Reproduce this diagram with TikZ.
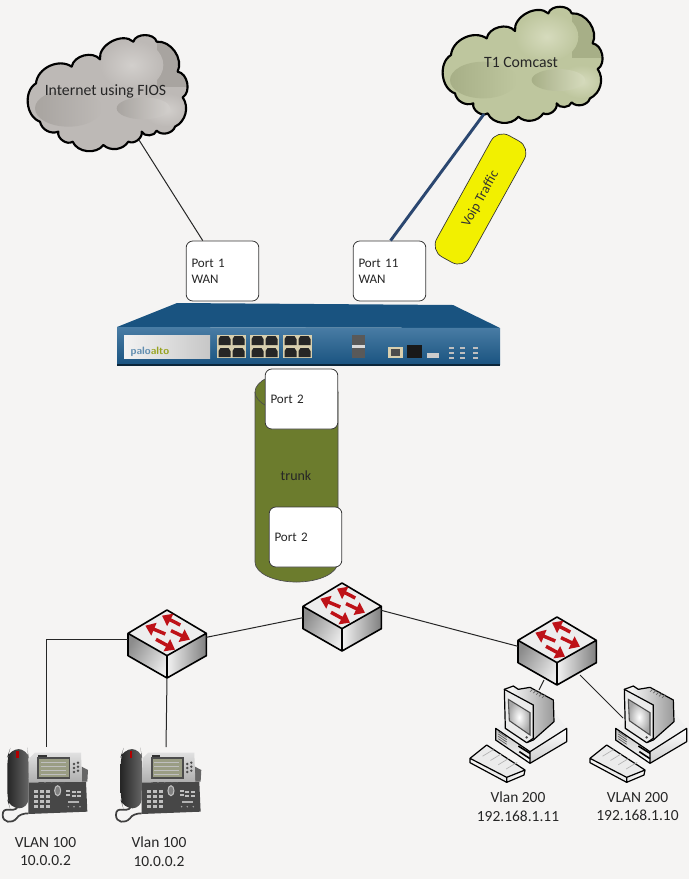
\documentclass[tikz,border=0pt]{standalone}
\usepackage{fontspec}
\setmainfont{Carlito}
\usetikzlibrary{arrows.meta,calc,shapes.geometric}
\definecolor{bgc}{HTML}{F5F4F3}
\definecolor{edgeg}{HTML}{3A3A3A}
\definecolor{fwblue}{HTML}{1C5C8E}
\definecolor{swred}{HTML}{BE1218}
\definecolor{olive}{HTML}{6C7C2D}
\definecolor{linkblue}{HTML}{2B4770}
\definecolor{greyB}{HTML}{BDB9B6}\definecolor{greyL}{HTML}{D2CFCC}\definecolor{greyD}{HTML}{A8A4A0}
\definecolor{oliveB}{HTML}{BEC69E}\definecolor{oliveL}{HTML}{D6DBBD}\definecolor{oliveD}{HTML}{A7AF87}
\definecolor{rjback}{HTML}{D8CFAE}
\definecolor{voipy}{HTML}{F2F000}
\definecolor{phonescreen}{HTML}{9A9D84}
\tikzset{
  portbox/.style={draw=edgeg,fill=white,rounded corners=5pt,line width=0.6pt,minimum width=54.5pt,minimum height=45pt,
     text width=46.5pt,inner sep=0pt,align=left,font=\fontsize{9.8}{12}\selectfont,text=black!85},
  lbl/.style={align=center,font=\fontsize{11.6}{14.2}\selectfont,text=black!85,inner sep=0pt},
  cloudlbl/.style={font=\fontsize{11.8}{14}\selectfont,text=black!85,inner sep=0pt},
  wire/.style={draw=black!85,line width=0.75pt},
  zoomed/.style={x=0.25pt,y=-0.25pt},
  swarrow/.style={draw=swred,line width=2.6pt,-{Triangle[length=7pt,width=10pt]}},
  rj/.style={fill=black!85,draw=none},
  pckey/.style={draw=black,line width=0.9pt,line join=round},
  switch/.pic={
    \begin{scope}[zoomed]
      \fill[white!93!black] (0,0)--(118,70)--(0,137)--(-117,70)--cycle;
      \shade[left color=black!45,right color=black!8,shading angle=60] (-117,70)--(0,137)--(0,204)--(-117,137)--cycle;
      \shade[left color=black!5,right color=black!50] (0,137)--(118,70)--(118,137)--(0,204)--cycle;
      \draw[black,line width=1.2pt,line join=round] (0,0)--(118,70)--(118,137)--(0,204)--(-117,137)--(-117,70)--cycle
        (-117,70)--(0,137)--(118,70) (0,137)--(0,204);
      \draw[swarrow] (40,45)--(-15,17);
      \draw[swarrow] (-5,72)--(-65,47);
      \draw[swarrow] (12,62)--(69,89);
      \draw[swarrow] (-33,88)--(24,119);
      \coordinate (-left) at (-117,104);
      \coordinate (-right) at (118,82);
      \coordinate (-west) at (-117,88);
      \coordinate (-bottom) at (0,204);
    \end{scope}
  },
  phone/.pic={
    \begin{scope}[zoomed]
      \draw[black!75,line width=1.3pt] (52,622) .. controls (40,640) and (8,615) .. (8,645) .. controls (8,668) and (35,672) .. (50,655) .. controls (55,645) and (70,640) .. (85,640);
      \fill[black!72] (85,545) -- (258,545) -- (262,635) -- (85,642) -- cycle;
      \fill[black!60] (245,500) -- (264,510) -- (262,545) -- (245,545) -- cycle;
      \shade[top color=black!12,bottom color=black!32] (88,475) -- (105,458) -- (243,458) -- (246,545) -- (85,548) -- cycle;
      \fill[black!70] (112,470) rectangle (211,536);
      \fill[phonescreen] (118,476) rectangle (206,531);
      \foreach \yy in {488,500,512,524} \draw[white!75!black,line width=0.7pt] (122,\yy)--(198,\yy);
      \fill[black!80] (115,465) rectangle (140,471);
      \shade[left color=black!85,right color=black!60] (30,447) [rounded corners=7pt] -- (82,447) -- (86,470) -- (85,625) -- (30,625) -- (22,600) -- (22,470) -- cycle;
      \fill[red!70!black] (49,452) rectangle (56,474);
      \foreach \xx/\yy in {222/492,234/488,222/504,234/500,222/516,234/512}
        \fill[black!70] (\xx,\yy) circle (4);
      \foreach \xx in {125,145,165,185} \fill[black!70] (\xx-7,545) rectangle (\xx+7,551);
      \foreach \xx in {108,126,144} \foreach \yy in {575,590,605,620}
        \fill[black!25] (\xx-6,\yy-5) rectangle (\xx+6,\yy+5);
      \draw[black!25,fill=black!50,line width=0.8pt] (173,572) ellipse (9 and 15);
      \foreach \xx/\yy in {205/572,205/584,222/575,238/575,222/587,238/587}
        \fill[black!25] (\xx-6,\yy-3) rectangle (\xx+6,\yy+3);
      \fill[black!30] (205,603) rectangle (238,608);
      \foreach \xx in {205,222,240} \fill[black!35] (\xx,620) circle (2.5);
    \end{scope}
  },
  computer/.pic={
    \begin{scope}[zoomed]
      \fill[black!8] (60,475)--(110,435)--(225,510)--(170,545)--cycle;
      \draw[pckey] (60,475)--(110,435)--(225,510)--(222,525)--(170,547)--(60,488)--cycle (60,475)--(170,532)--(225,510) (170,532)--(170,547);
      \foreach \tt in {0.15,0.35,0.55,0.75}
        \draw[black!30,line width=0.5pt] ($(80,459)!\tt!(198,523)$) -- +(33,-20);
      \shade[top color=black!25,bottom color=white] (137,385)--(240,455)--(240,490)--(137,420)--cycle;
      \shade[top color=white,bottom color=black!20] (240,455)--(350,385)--(350,425)--(240,490)--cycle;
      \fill[black!6] (137,385)--(165,366)--(300,320)--(350,385)--(240,455)--cycle;
      \draw[pckey] (137,385)--(240,455)--(350,385)--(350,425)--(240,490)--(137,420)--cycle (240,455)--(240,490);
      \foreach \yy in {0,7,14,21} \draw[black!65,line width=0.5pt] (145,395+\yy)--(170,412+\yy);
      \draw[black,line width=1.2pt] (205,438)--(240,460) (208,455)--(240,476);
      \shade[left color=black!6,right color=black!40] (190,262)--(240,265)--(310,300)--(312,365)--(250,420)--(200,390)--cycle;
      \draw[pckey] (163,268)--(190,258)--(205,268)--(240,262)--(310,300)--(312,365)--(250,420)--(230,428);
      \foreach \tt in {0,0.2,0.4,0.6,0.8}
        \draw[black!60,line width=0.5pt] ($(240,275)!\tt!(285,298)$)--+(10,-9);
      \fill[black!8] (163,268)--(248,315)--(250,415)--(230,428)--(166,385)--cycle;
      \draw[pckey] (163,268)--(250,315)--(250,415)--(230,428)--(166,385)--cycle;
      \shade[inner color=white,outer color=black!35] (175,298)--(240,338)--(240,405)--(178,362)--cycle;
      \draw[black!70,line width=0.8pt] (175,298)--(240,338)--(240,405)--(178,362)--cycle;
      \fill[black!70] (230,412) circle (4);
    \end{scope}
  },
}
\newcommand{\cloudpath}{(108,250) to[bend left=60] (215,200) to[bend left=65] (300,178) to[bend left=70] (400,125)
  to[bend left=75] (470,125) to[bend left=60] (533,215) to[bend left=70] (548,292) to[bend left=50] (525,380)
  to[bend left=60] (470,392) to[bend left=70] (425,395) to[bend left=65] (385,425) to[bend left=50] (310,435) to[bend left=60] (218,425)
  to[bend left=70] (175,395) to[bend left=50] (120,365) to[bend left=65] (108,250) -- cycle}
\newcommand{\cloudshape}[4]{% #1 shift, #2 base, #3 light, #4 dark
  \begin{scope}[shift={#1},zoomed]
    \begin{scope}
      \clip \cloudpath;
      \fill[#2] (50,60) rectangle (600,480);
      \fill[#4] (470,120) rectangle (560,260);
      \shade[inner color=#3,outer color=#2] (395,195) ellipse (95 and 75);
      \shade[inner color=#3,outer color=#2] (500,330) ellipse (70 and 50);
      \shade[left color=#4,right color=#2] (205,325) ellipse (100 and 55);
      \shade[left color=#4,right color=#3] (430,325) ellipse (80 and 33);
    \end{scope}
    \draw[black,line width=1.6pt,line join=round] \cloudpath;
  \end{scope}}
\begin{document}
\begin{tikzpicture}[x=0.75pt,y=-0.75pt]
\useasboundingbox (0,0) rectangle (689,879);
\fill[bgc] (0,0) rectangle (689,879);

\cloudshape{(0,0)}{greyB}{greyL}{greyD}
\cloudshape{(415,-28.3)}{oliveB}{oliveL}{oliveD}
\node[cloudlbl] (cloudA) at (105.5,91) {Internet using FIOS};
\node[cloudlbl] (cloudB) at (521,62) {T1 Comcast};
\coordinate (cloudAfoot) at (139,140);
\coordinate (cloudBfoot) at (484,114);

\path[fill=olive,draw=black!70,line width=0.5pt] (255,392) arc[start angle=180,end angle=360,x radius=41.5,y radius=20] -- (338,562) arc[start angle=0,end angle=180,x radius=41.5,y radius=20] -- cycle;
\draw[black!70,line width=0.5pt] (255,392) arc[start angle=180,end angle=0,x radius=41.5,y radius=20];

\node[portbox] (port1) at (222.5,271) {Port 1\\WAN};
\node[portbox] (port11) at (389.5,271) {Port 11\\WAN};
\node[portbox] (port2a) at (301.5,399) {Port 2};
\node[portbox] (port2b) at (305.5,537) {Port 2};
\node[font=\fontsize{10.5}{12}\selectfont,text=black!85,inner sep=0pt] (trunk) at (296,476) {trunk};

\draw[wire] (cloudAfoot) -- (port1.123);
\draw[linkblue,line width=2.2pt] (cloudBfoot) -- (port11.88);

\node[draw=black!80,fill=voipy,rounded corners=10pt,rotate=61,minimum width=104pt,minimum height=28.5pt,inner sep=0pt,line width=0.5pt,
  font=\fontsize{10.3}{12}\selectfont,text=black!80] (voip) at (480.5,199) {Voip Traffic};

% firewall
\shade[left color=fwblue!90!black,middle color=fwblue!40!white!85!black,right color=fwblue!90!black] (177,303)--(453,305)--(500,328)--(117,327)--cycle;
\shade[top color=fwblue!80!white,bottom color=fwblue!90!black] (117,327)--(500,328)--(500,365)--(117,365)--cycle;
\fill[black!60!fwblue] (117,364) rectangle (500,366);
\shade[left color=black!5,right color=black!22] (124,335) rectangle (210,358);
\node[inner sep=0pt,font=\sffamily\bfseries\fontsize{8}{8}\selectfont,text=fwblue!70!white] (palo) at (150,351.5) {palo\textcolor{olive!70!yellow}{alto}};
\foreach \gx in {217,250,283}{
  \fill[rjback] (\gx,335) rectangle (\gx+29,358);
  \foreach \px in {1.5,15.5} \foreach \py in {1,13}
    \fill[rj] (\gx+\px+2,335+\py) -- (\gx+\px+10,335+\py) -- (\gx+\px+12,335+\py+3) -- (\gx+\px+12,335+\py+9) -- (\gx+\px,335+\py+9) -- (\gx+\px,335+\py+3) -- cycle;
}
\fill[black!65] (352,335) rectangle (365,358);
\fill[black!15] (352,345) rectangle (365,348);
\fill[rjback] (388,347) rectangle (403,358);
\fill[black!70] (391,349) rectangle (400,356);
\fill[black!90] (407,345) rectangle (422,358);
\fill[black!20] (427,353) rectangle (439,358);
\foreach \xx in {449,460,473} \foreach \yy in {347,352,357} \fill[black!25] (\xx,\yy) rectangle (\xx+5,\yy+1.5);

\pic (swa) at (167,610) {switch};
\pic (swb) at (342,583) {switch};
\pic (swc) at (557,617) {switch};

\pic (phonea) at (0,600) {phone};
\pic (phoneb) at (113.3,600) {phone};
\coordinate (phoneatop) at (46,747);
\coordinate (phonebtop) at (166,747);

\pic (pca) at (450,600) {computer};
\pic (pcb) at (570,600) {computer};
\coordinate (pcatop) at (539,690);
\coordinate (pcbtop) at (623,718);
\coordinate (swcpca) at (544,680);
\coordinate (swcpcb) at (580,675);

\draw[wire] (swa-right) -- (swb-left);
\draw[wire] (swb-right) -- (swc-west);
\draw[wire] (swa-west) -| (phoneatop);
\draw[wire] (swa-bottom) -- (phonebtop);
\draw[wire] (swcpca) -- (pcatop);
\draw[wire] (swcpcb) -- (pcbtop);

\node[lbl] (la) at (45.5,851.5) {VLAN 100\\10.0.0.2};
\node[lbl] (lb) at (159,851.5) {Vlan 100\\10.0.0.2};
\node[lbl] (lc) at (518,806.5) {Vlan 200\\192.168.1.11};
\node[lbl] (ld) at (637.5,806.5) {VLAN 200\\192.168.1.10};
\end{tikzpicture}
\end{document}
